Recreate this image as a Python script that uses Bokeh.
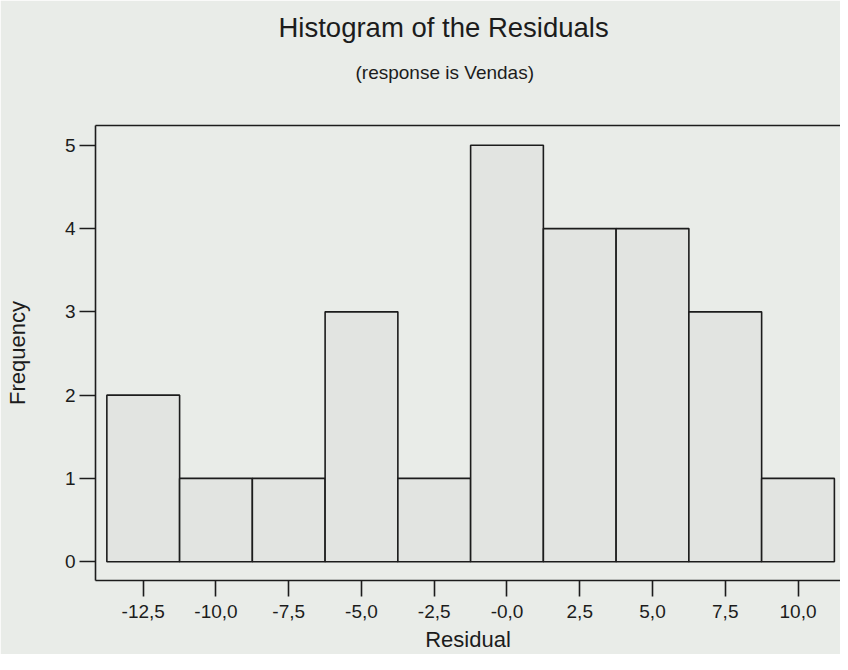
from bokeh.plotting import figure
from bokeh.models import FixedTicker, Range1d, Title, LinearAxis, ColumnDataSource
from bokeh.embed import file_html
from bokeh.resources import INLINE

# ---- data ----
bin_centers = [-12.5, -10.0, -7.5, -5.0, -2.5, 0.0, 2.5, 5.0, 7.5, 10.0]
frequencies = [2, 1, 1, 3, 1, 5, 4, 4, 3, 1]
bin_width = 2.5
x_tick_labels = ["-12,5", "-10,0", "-7,5", "-5,0", "-2,5", "-0,0", "2,5", "5,0", "7,5", "10,0"]
y_ticks = [0, 1, 2, 3, 4, 5]

BG = "#e9ece8"
BAR = "#e2e4e1"
INK = "#1c1c1c"
FONT = "Liberation Sans"

src = ColumnDataSource(dict(
    left=[c - bin_width / 2 for c in bin_centers],
    right=[c + bin_width / 2 for c in bin_centers],
    top=frequencies,
))

p = figure(width=840, height=654, output_backend="svg", toolbar_location=None,
           x_range=Range1d(-14.14, 11.46), y_range=Range1d(-0.226, 5.238),
           min_border_left=95, min_border_right=0, min_border_top=10,
           min_border_bottom=74)
p.background_fill_color = BG
p.border_fill_color = BG
p.outline_line_color = None
p.grid.visible = False

p.quad(left="left", right="right", top="top", bottom=0, source=src,
       fill_color=BAR, line_color=INK, line_width=1.6)

# axes
for ax in (p.xaxis[0], p.yaxis[0]):
    ax.axis_line_color = INK
    ax.axis_line_width = 1.6
    ax.major_tick_line_color = INK
    ax.major_tick_line_width = 1.6
    ax.major_tick_in = 0
    ax.major_tick_out = 16
    ax.minor_tick_line_color = None
    ax.major_label_text_font = FONT
    ax.major_label_text_font_size = "19px"
    ax.major_label_text_color = INK
    ax.axis_label_text_font = FONT
    ax.axis_label_text_font_size = "22px"
    ax.axis_label_text_font_style = "normal"
    ax.axis_label_text_color = INK

p.xaxis.ticker = FixedTicker(ticks=bin_centers)
p.xaxis.major_label_overrides = {c: s for c, s in zip(bin_centers, x_tick_labels)}
p.xaxis.axis_label = "Residual"
p.xaxis.major_label_standoff = 8
p.xaxis.axis_label_standoff = 6

p.yaxis.ticker = FixedTicker(ticks=y_ticks)
p.yaxis.axis_label = "Frequency"
p.yaxis.major_label_standoff = 4
p.yaxis.axis_label_standoff = 32

# top frame line
top_ax = LinearAxis(ticker=FixedTicker(ticks=[]), axis_line_color=INK,
                    axis_line_width=1.6, major_tick_line_color=None,
                    minor_tick_line_color=None)
p.add_layout(top_ax, "above")

# spacer between subtitle and frame
p.add_layout(Title(text=" ", text_font_size="2px", standoff=30), "above")
p.add_layout(Title(text="(response is Vendas)", align="left", offset=260,
                   text_font=FONT, text_font_size="19px", text_font_style="normal",
                   text_color=INK, standoff=17), "above")
p.add_layout(Title(text="Histogram of the Residuals", align="left", offset=183,
                   text_font=FONT, text_font_size="27.5px", text_font_style="normal",
                   text_color=INK, standoff=18), "above")

open("out.html", "w").write(file_html(p, INLINE))
